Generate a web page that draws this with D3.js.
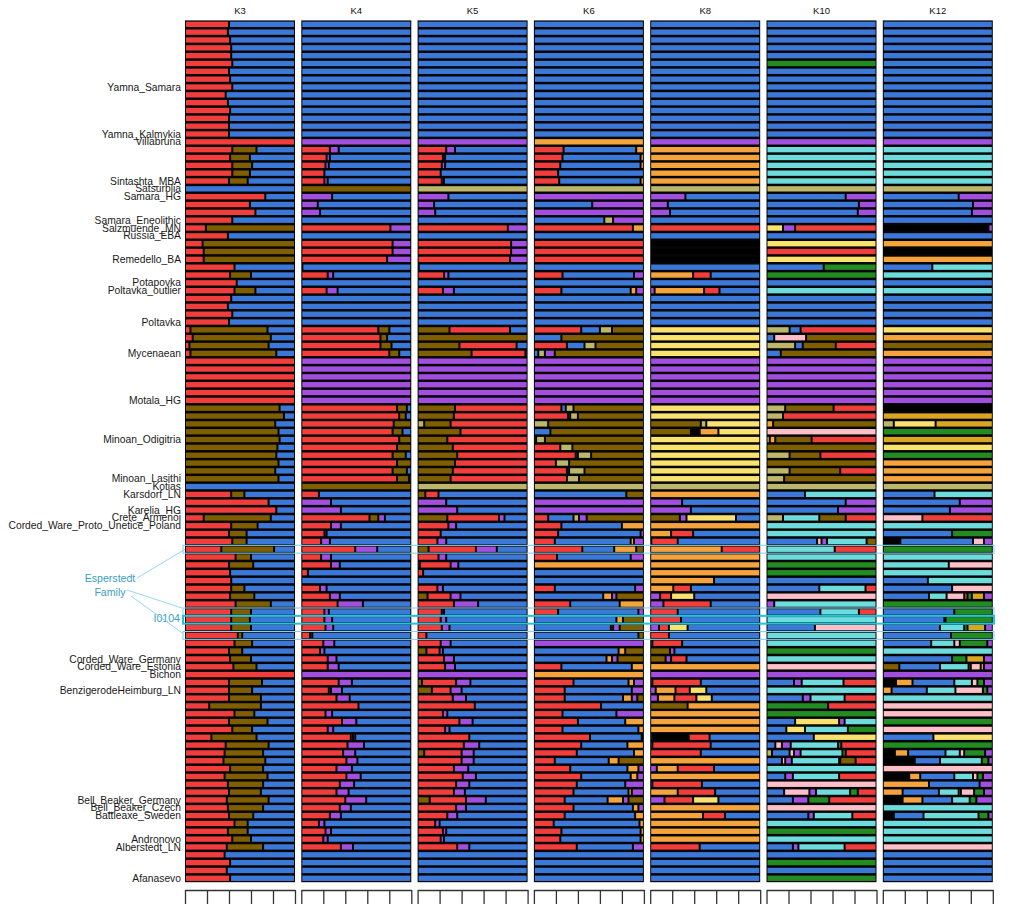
<!DOCTYPE html>
<html><head><meta charset="utf-8">
<script src="https://cdn.jsdelivr.net/npm/d3@7"></script>
<style>body{margin:0;background:#fff}svg{display:block}</style>
</head><body>
<svg id="c" width="1024" height="914"></svg>
<script>
// ---- data ----
const panels = ["K3","K4","K5","K6","K8","K10","K12"];
// component colour codes
const colorCodes = {R:"#F23D3D",B:"#3C78D8",N:"#7F5E00",P:"#A24FE0",K:"#BDB76B",O:"#F5A33C",Y:"#FAE26E",C:"#6EDCDC",G:"#228B22",I:"#FFBFC9",D:"#DAA520",X:"#000000"};
const labels = [["Yamna_Samara",8],["Yamna_Kalmykia",14],["Villabruna",15],["Sintashta_MBA",20],["Satsurblia",21],["Samara_HG",22],["Samara_Eneolithic",25],["Salzmuende_MN",26],["Russia_EBA",27],["Remedello_BA",30],["Potapovka",33],["Poltavka_outlier",34],["Poltavka",38],["Mycenaean",42],["Motala_HG",48],["Minoan_Odigitria",53],["Minoan_Lasithi",58],["Kotias",59],["Karsdorf_LN",60],["Karelia_HG",62],["Crete_Armenoi",63],["Corded_Ware_Proto_Unetice_Poland",64],["Corded_Ware_Germany",81],["Corded_Ware_Estonia",82],["Bichon",83],["BenzigerodeHeimburg_LN",85],["Bell_Beaker_Germany",99],["Bell_Beaker_Czech",100],["Battleaxe_Sweden",101],["Andronovo",104],["Alberstedt_LN",105],["Afanasevo",109]];
const familyRows = [67,75,78];
const focusRows = [76];
const tickValues = [0,0.2,0.4,0.6,0.8,1];

const k3 = [
"R40 B60","R39 B61","R41 B59","R42 B58","R42 B58","R43 B57","R40 B60","R41 B59","R43 B57","R37 B63",
"R39 B61","R41 B59","R40 B60","R40 B60","R40 B60","R100","R43 N22 B35","R41 N18 B41","R43 N18 B39","R43 N16 B41",
"R40 N17 B43","B100","R73 B27","R59 B41","R64 B36","R43 B57","R19 N81","R39 B61","R16 N84","R17 N83",
"R17 N83","R45 B55","R41 N19 B40","R47 B53","R45 N19 B36","R42 B58","R39 B61","R43 B57","R40 B60","R5 N70 B25",
"R7 N71 B22","R4 N72 B24","R5 N78 B17","R100","R100","R100","R100","R100","R100","N86 B14",
"N90 B10","N82 B18","N85 B15","N86 B14","N84 B16","N83 B17","N85 B15","N82 B18","N85 B15","B100",
"R42 N12 B46","R76 B24","R83 B17","R17 N61 B22","R42 N24 B34","R40 N16 B44","R43 N13 B44","R33 N48 B19","R46 N14 B40","R40 N22 B38",
"R41 B59","R42 B58","R42 N12 B46","R41 N22 B37","R46 N32 B22","R42 N18 B40","R42 N17 B41","R42 N18 B40","R48 N4 B48","R45 N16 B39",
"R40 N12 B48","R41 N19 B40","R44 N21 B35","R100","R40 N30 B30","R40 N21 B39","R40 N29 B31","R22 N47 B31","R45 N18 B37","R40 N35 B25",
"R43 N18 B39","R24 N41 B35","R37 N39 B24","R36 N35 B29","R35 N38 B27","R41 N30 B29","R36 N39 B25","R39 N32 B29","R40 N29 B31","R38 N38 B24",
"R39 N32 B29","R40 N22 B38","R45 N12 B43","R39 N18 B43","R43 N17 B40","R38 N33 B29","R36 B64","R41 B59","R38 B62","R41 B59"];

const k4 = [
"B100","B100","B100","B100","B100","B100","B100","B100","B100","B100",
"B100","B100","B100","B100","B100","P100","R26 P8 B66","R23 P3 B74","R22 P3 B75","R21 B79",
"R21 P3 B76","N100","P28 B72","P15 B85","P17 B83","B100","R81 P19","B100","R83 P17","R83 P17",
"R78 P22","R1 B99","R24 P5 B71","B100","R23 P10 B67","B100","B100","B100","B100","R70 N10 B20",
"R72 N6 B22","R72 N10 B18","R80 N9 B11","P100","P100","P100","P100","P100","P100","R87 N9 B4",
"R89 N6 B5","R84 N16","R83 N9 B8","R89 N11","R87 N13","R83 N12 B5","R87 N13","R83 N13 B4","R87 N11 B2","N100",
"R16 B84","P27 B73","P36 B64","R62 N8 P6 B24","R27 P9 B64","R21 P2 B77","R18 P8 B74","R49 P20 B31","R18 P9 B73","R27 P8 B65",
"R6 B94","B100","R17 P6 B77","R26 P9 B65","R33 P23 B44","R21 P4 B75","R21 P7 B72","R22 P7 B71","R8 P2 B90","R20 P10 B70",
"R17 P4 B79","R24 P8 B68","R24 P10 B66","P100","R34 P12 B54","R25 N2 P10 B63","R32 P12 B56","R52 B48","R22 P6 B72","R37 P13 B50",
"R24 P5 B71","R45 N2 P2 B51","R42 P15 B43","R38 P11 B51","R41 P10 B49","R32 P14 B54","R41 P13 B46","R35 P13 B52","R32 P11 B57","R40 P19 B41",
"R35 P10 B55","R26 P10 B64","R16 P5 B79","R22 P5 B73","R20 P4 B76","R36 P11 B53","B100","B100","B100","B100"];

const k5 = [
"B100","B100","B100","B100","B100","B100","B100","B100","B100","B100",
"B100","B100","B100","B100","B100","P100","R26 P8 B66","R23 P2 B75","R22 P3 B75","R21 B79",
"R22 P2 B76","K100","P28 B72","P15 B85","P16 B84","B100","R82 P18","B100","R85 P15","R85 P15",
"R84 P16","R1 B99","R24 P4 B72","B100","R23 P10 B67","B100","B100","B100","B100","N29 R55 B16",
"N100","N38 R52 B10","N49 R49 B2","P100","P100","P100","P100","P100","P100","N34 R66",
"N33 R67","K6 N24 R70","N39 R61","N27 R73","N32 R68","N36 R64","N34 R66","N32 R68","N30 R70","K100",
"N7 R12 B81","P26 B74","P36 B64","N27 R47 P5 B21","R28 P7 B65","R21 B79","R18 P8 B74","N10 R43 P19 B28","R19 P7 B74","N2 R28 P7 B63",
"R5 B95","B100","R18 P5 B77","N9 R21 P9 B61","R33 P22 B45","R22 P2 B76","R21 P5 B74","R22 P7 B71","R8 B92","R21 P9 B70",
"N8 R12 P3 B77","R24 P9 B67","R25 P9 B66","P100","N4 R31 P13 B52","N13 R17 P10 B60","R32 P12 B56","R52 B48","R23 P4 B73","R38 P12 B50",
"R25 P4 B71","R47 B53","R42 P14 B44","N6 R34 P11 B49","R40 P11 B49","R33 P13 B54","R41 P12 B47","R35 P12 B53","R33 P10 B57","N11 R33 P18 B38",
"R35 P9 B56","R27 P9 B64","R16 P4 B80","R23 P3 B74","R21 P3 B76","R36 P11 B53","B100","B100","B100","B100"];

const k6 = [
"B100","B100","B100","B100","B100","B100","B100","B100","B100","B100",
"B100","B100","B100","B100","B100","O100","R27 B66 O7","R26 B71 O3","R24 B73 O3","R22 B78",
"R23 B74 O3","K100","P100","B53 P47","P100","B64 K8 P28","R90 O10","B100","R100","R100",
"R100","B100","R26 B65 P9","B100","R25 B63 O5 P7","B100","B100","B100","B100","R43 B17 K11 N29",
"B25 N75","R30 B16 K10 N44","B4 K6 P9 N81","P100","P100","P100","P100","P100","P100","R25 B4 K7 N64",
"R31 B2 K7 N60","K13 N87","B15 N85","B2 K8 N90","R24 K11 N65","R38 B2 K12 N48","R20 K12 N68","R30 B2 K14 N54","R30 K11 N59","K100",
"B84 N16","P100","P100","R13 B23 K5 P7 N52","R25 B55 O20","R22 B75 P3","R19 B69 O3 P9","R44 B29 O20 N7","R21 B67 P12","O100",
"B100","B100","R19 B73 P8","B63 O8 P4 N25","R33 B45 O22","R22 B73 P5","B75 O6 N19","B70 O2 P6 N22","B95 N5","P100",
"B77 O6 N17","B66 O5 P5 N24","R25 B64 O11","O100","R36 B50 O5 P9","R28 B61 P11","R28 B53 O8 P5 N6","R61 B39","R26 B49 P25","R40 B43 O17",
"R26 B69 O5","R51 B47 X2","R43 B42 O15","R39 B52 O9","R19 B49 O9 N23","R33 B52 O10 P5","R43 B45 O6 P6","R39 B44 P17","R36 B50 O3 P11","R28 B39 O14 P5 N14",
"R36 B54 O5 P5","R28 B64 O8","R18 B78 O4","R25 B72 O3","R24 B73 O3","R39 B51 P10","B100","B100","B100","B100"];

const k8 = [
"B100","B100","B100","B100","B100","B100","B100","B100","B100","B100",
"B100","B100","B100","B100","B100","P100","O100","O100","O100","O100",
"O100","K100","P32 B68","P16 B84","P18 B82","B100","R100","B100","X100","X100",
"X100","B100","O39 R16 B45","B100","P4 O45 R14 B37","B100","B100","B100","B100","Y100",
"Y100","Y100","Y100","P100","P100","P100","P100","P100","P100","Y100",
"Y100","N46 K5 Y49","N37 X8 O17 Y38","Y100","Y100","Y100","Y100","Y100","Y100","K100",
"O100","P29 B71","P37 B63","N27 P6 Y45 B22","O100","O19 R20 B61","P1 R24 B75","O65 R35","O100","O100",
"O100","O58 B42","O21 R16 B63","P9 R10 Y21 B60","P12 R43 B45","R25 B75","R28 B72","P8 R9 Y17 B66","R17 B83","P2 R27 B71",
"N18 P4 B78","N14 P5 R14 B67","O100","P100","P2 R44 B54","P5 O18 R13 Y15 B49","P7 O15 R20 Y14 B44","N34 O66","O100","O100",
"O100","N2 X33 R19 B46","P2 R53 B45","R46 B54","O100","P6 O19 R33 B42","O100","P2 R45 B53","O25 R34 B41","P13 R26 Y23 B38",
"O100","O48 R20 B32","O100","O100","O100","R45 B55","B100","B100","B100","B100"];

const k10 = [
"B100","B100","B100","B100","B100","G100","B100","B100","B100","B100",
"B100","B100","B100","B100","B100","P100","C100","C100","C100","C100",
"C100","K100","B72 P28","B84 P16","B83 P17","B100","Y15 P11 R74","B100","Y100","R100",
"Y100","B52 G48","G100","B100","C100","B100","B100","B100","B100","K21 B10 R69",
"B7 I29 N64","K26 B7 N30 R37","B13 N87","P100","P100","P100","P100","P100","P100","K17 N44 R39",
"K15 R85","O6 N94","I100","K3 O5 N33 R59","N100","K21 N28 R51","N100","K21 N46 R33","K16 N84","K100",
"B35 C65","B72 P28","B65 P35","K15 C33 N24 R28","C100","C100","B46 I4 P5 C36 N9","C62 R38","C100","G100",
"G100","B100","B48 C42 R10","I100","P7 C93","B49 C35 R16","C100","B44 I56","C100","C100",
"G100","C100","I100","P100","B25 P7 C38 R30","C100","B33 P7 C31 R29","G56 R44","G100","B26 Y40 P5 C29",
"B18 Y17 C39 G26","B43 Y57","B8 I6 P8 C43 G3 R32","K5 B16 I4 P6 C38 G3 R28","B14 I3 P6 C43 X1 N14 R19","C100","B17 P7 C42 R34","I100","B16 I23 P6 C31 G7 R17","B24 P14 G19 R43",
"I100","B38 P5 C35 R22","C100","G100","C100","B24 P5 C42 R29","B100","G100","B100","G100"];

const k12 = [
"B100","B100","B100","B100","B100","B100","B100","B100","B100","B100",
"B100","B100","B100","B100","B100","P100","C100","C100","C100","C100",
"C100","K100","B69 P31","B82 P18","B81 P19","B100","X96 P4","B100","O100","X100",
"O100","B45 C55","C100","B100","C100","B100","B100","B100","B100","Y100",
"O100","N100","O100","P100","P100","P100","P100","P100","P100","X100",
"D100","K10 Y38 D52","G100","D100","Y100","G100","O100","O100","O100","K100",
"B47 C53","B70 P30","B61 P39","I36 R64","C100","B63 G37","X16 B66 I10 P8","G100","C100","C60 I40",
"C100","B41 C59","B63 I37","B42 C16 I16 R3 G4 D11 P8","G100","B65 G35","B56 X1 G43","B52 C22 G3 D16 P7","B62 G38","B44 C21 I5 G25 P5",
"C100","B63 G13 D16 P8","N15 B37 C26 D2 I9 D3 P8","P100","X12 O15 B38 C16 I5 G6 P8","O8 B32 C26 I25 G4 P5","C100","I100","I100","G100",
"I100","B46 Y54","G100","X11 O12 B34 C13 I4 G19 P7","X29 B23 C38 G6 P4","I100","X24 O10 B31 C17 I4 G5 P9","O42 B46 P12","O18 B33 C18 Y2 I12 G9 P8","X18 O18 B27 C16 G6 P15",
"C100","X10 B27 C50 G9 P4","C100","C100","C100","I100","B100","B100","B100","B100"];

const panelData = {K3:k3,K4:k4,K5:k5,K6:k6,K8:k8,K10:k10,K12:k12};

// ---- drawing ----
const svg = d3.select("#c");
const nRows = k3.length;
const y = d3.scaleBand().domain(d3.range(nRows)).range([20.4, 882.2]);
const px = d3.scaleBand().domain(panels).range([185, 992.8]).paddingInner(0.0542);
const font = "'Liberation Sans', Arial, Helvetica, sans-serif";

function parseRow(s){
  const parts = s.split(" ").map(t => ({c:t[0], v:+t.slice(1)}));
  const tot = d3.sum(parts, d => d.v);
  let acc = 0;
  return parts.map(p => { const s0 = acc/tot; acc += p.v; return {c:p.c, s0, s1:acc/tot}; });
}

panels.forEach(k => {
  const x0 = px(k), bw = px.bandwidth();
  const x = d3.scaleLinear().domain([0,1]).range([x0, x0 + bw]);
  const g = svg.append("g");
  g.append("rect").attr("x", x0).attr("y", y.range()[0]).attr("width", bw)
    .attr("height", y.range()[1]-y.range()[0]).attr("fill", "#050505");
  const segs = [];
  panelData[k].forEach((s, i) => parseRow(s).forEach(p => segs.push({i, ...p})));
  g.selectAll("rect.seg").data(segs).join("rect").attr("class","seg")
    .attr("x", d => x(d.s0) + 1)
    .attr("width", d => Math.max(0, x(d.s1) - x(d.s0) - 2))
    .attr("y", d => y(d.i) + 1.25)
    .attr("height", y.bandwidth() - 2.5)
    .attr("fill", d => colorCodes[d.c]);
  svg.append("text").attr("x", x0 + bw/2).attr("y", 13.5).attr("text-anchor","middle")
    .attr("font-family", font).attr("font-size", 9.5).attr("fill","#111").text(k);
  const ax = svg.append("g").attr("transform","translate(0,890)")
    .call(d3.axisBottom(x).tickValues(tickValues).tickSize(14).tickSizeOuter(0).tickFormat(""));
  ax.selectAll("path,line").attr("stroke","#333").attr("stroke-width",1.3);
});

// row labels
svg.append("g").selectAll("text").data(labels).join("text")
  .attr("x", 181).attr("y", d => y(d[1]) + y.bandwidth()/2 + 3.6)
  .attr("text-anchor","end").attr("font-family", font).attr("font-size", 10.3)
  .attr("fill","#1a1a1a").text(d => d[0]);

// highlight boxes
const bx0 = 183, bx1 = 994;
svg.append("g").selectAll("rect").data(familyRows).join("rect")
  .attr("x", bx0).attr("y", d => y(d)).attr("width", bx1 - bx0).attr("height", y.bandwidth())
  .attr("fill","none").attr("stroke","#86D3EE").attr("stroke-width",1.1);
svg.append("g").selectAll("rect").data(focusRows).join("rect")
  .attr("x", bx0).attr("y", d => y(d)).attr("width", bx1 - bx0).attr("height", y.bandwidth())
  .attr("fill","none").attr("stroke","#1EC6DA").attr("stroke-width",2);

// annotation
const ann = svg.append("g").attr("font-family", font).attr("fill","#3A9EC0");
ann.append("text").attr("x",110).attr("y",582).attr("text-anchor","middle").attr("font-size",10.6).text("Esperstedt");
ann.append("text").attr("x",110).attr("y",596).attr("text-anchor","middle").attr("font-size",10.6).text("Family");
ann.append("text").attr("x",180).attr("y",621.5).attr("text-anchor","end").attr("font-size",10.6).text("I0104");
const lk = svg.append("g").attr("stroke","#86D3EE").attr("stroke-width",0.9);
lk.append("line").attr("x1",137).attr("y1",578).attr("x2",185).attr("y2",y(67)+4);
lk.append("line").attr("x1",127).attr("y1",590).attr("x2",182).attr("y2",y(75));
lk.append("line").attr("x1",131).attr("y1",596).attr("x2",183).attr("y2",y(78)+2);
</script>
</body></html>
